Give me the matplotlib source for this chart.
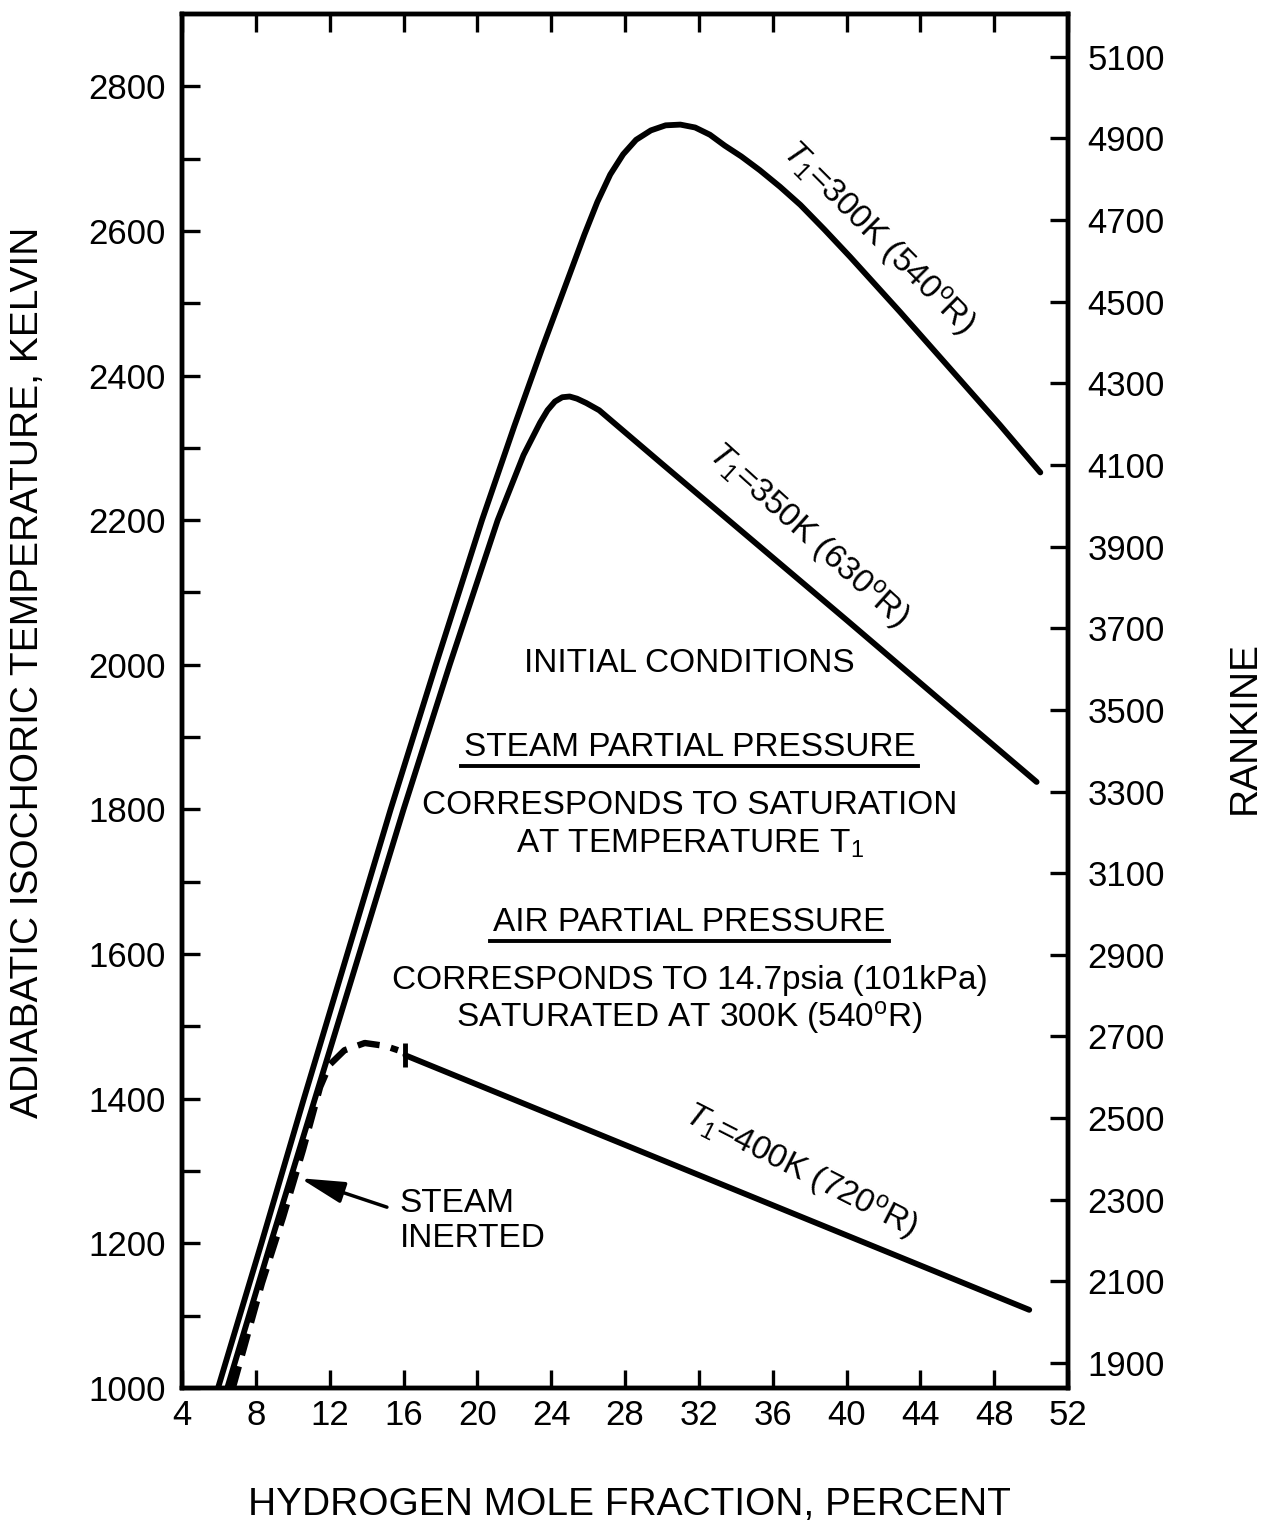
import matplotlib as mpl
mpl.use('Agg')
import matplotlib.pyplot as plt
from matplotlib.lines import Line2D
import numpy as np

# 曲线数据: 氢摩尔分数 (%) 与绝热等容温度 (K)
h2_300 = [5.95, 8.3, 10.6, 12.95, 15.3, 17.75, 20.25, 22.0, 23.5, 25.0, 25.8, 26.5,
          27.2, 27.9, 28.6, 29.4, 30.2, 31.0, 31.8, 32.6, 33.4, 34.3, 35.3, 36.4,
          37.5, 38.8, 40.2, 42.9, 45.6, 48.3, 50.5]
temp_300 = [1000, 1200, 1400, 1600, 1800, 2000, 2200, 2330, 2437, 2540, 2595, 2640,
            2678, 2706, 2726, 2739, 2746, 2747, 2743, 2733, 2718, 2703, 2684, 2661,
            2636, 2602, 2564, 2488, 2410, 2332, 2266]

h2_350 = [6.45, 8.8, 11.2, 13.6, 16.0, 18.5, 21.1, 22.5, 23.4, 23.8, 24.2, 24.6,
          25.0, 25.4, 25.9, 26.6, 30.0, 35.0, 40.0, 45.0, 50.3]
temp_350 = [1000, 1200, 1400, 1600, 1800, 2000, 2200, 2290, 2335, 2352, 2364, 2370,
            2371, 2368, 2362, 2352, 2278, 2170, 2062, 1953, 1838]

# T1=400K: 蒸汽惰化段 (虚线) 和实线段
h2_400_inert = [6.75, 8.33, 9.47, 10.55, 11.48, 12.0, 12.8, 13.9, 15.0, 15.7]
temp_400_inert = [1000, 1145, 1236, 1329, 1416, 1447, 1467, 1477, 1473, 1467]
h2_400 = [16.1, 49.9]
temp_400 = [1460, 1108]

x_ticks = np.arange(4, 53, 4)
kelvin_ticks = np.arange(1000, 2801, 200)
kelvin_minor = np.arange(1100, 2800, 200)
rankine_ticks = np.arange(1900, 5101, 200)

font_name = 'Liberation Sans'
mpl.rcParams['font.family'] = [font_name, 'DejaVu Sans']
mpl.rcParams['mathtext.fontset'] = 'custom'
mpl.rcParams['mathtext.rm'] = font_name
mpl.rcParams['mathtext.it'] = font_name + ':italic'

fig = plt.figure(figsize=(12.66, 15.35), dpi=100)
ax = fig.add_axes([0.1438, 0.0958, 0.6998, 0.8951])

lw = 4.2
line_kw = dict(color='k', lw=lw, solid_capstyle='round', solid_joinstyle='round')
ax.plot(h2_300, temp_300, **line_kw)
ax.plot(h2_350, temp_350, **line_kw)
ax.plot(h2_400_inert, temp_400_inert, color='k', lw=lw + 0.4, ls=(0, (3.5, 1.8)))
ax.plot(h2_400, temp_400, marker='|', markersize=17, markeredgewidth=3.5,
        markevery=[0], **line_kw)

ax.set_xlim(4, 52)
ax.set_ylim(1000, 2900)
ax.set_xticks(x_ticks)
ax.set_yticks(kelvin_ticks)
ax.set_yticks(kelvin_minor, minor=True)
ax.tick_params(which='both', direction='in', length=13, width=2.4, top=True,
               right=False, labelsize=25)
ax.tick_params(axis='y', pad=12)
ax.tick_params(axis='x', pad=8)

ax2 = ax.twinx()
ax2.set_ylim(1839, 5205)
ax2.set_yticks(rankine_ticks)
ax2.tick_params(direction='in', length=13, width=2.4, labelsize=25, pad=14)

for a in (ax, ax2):
    for sp in a.spines.values():
        sp.set_linewidth(3.2)

# 曲线标注
lab_kw = dict(fontsize=24, ha='center', va='center', rotation_mode='anchor')
ax.text(41.7, 2590, r'$T_1$=300K (540$^{\rm o}$R)', rotation=-45, **lab_kw)
ax.text(37.9, 2179, r'$T_1$=350K (630$^{\rm o}$R)', rotation=-42, **lab_kw)
ax.text(37.5, 1301, r'$T_1$=400K (720$^{\rm o}$R)', rotation=-27, **lab_kw)

# 初始条件说明
cx = 31.5
txt_kw = dict(fontsize=24, ha='center', va='center')
ax.text(cx, 2002, 'INITIAL CONDITIONS', **txt_kw)
t_steam = ax.text(cx, 1885, 'STEAM PARTIAL PRESSURE', **txt_kw)
ax.text(cx, 1806, 'CORRESPONDS TO SATURATION', **txt_kw)
ax.text(cx, 1752, r'AT TEMPERATURE T$_1$', **txt_kw)
t_air = ax.text(cx, 1644, 'AIR PARTIAL PRESSURE', **txt_kw)
ax.text(cx, 1564, 'CORRESPONDS TO 14.7psia (101kPa)', **txt_kw)
ax.text(cx, 1512, 'SATURATED AT 300K (540$^{\\rm o}$R)', **txt_kw)

ax.text(15.8, 1231, 'STEAM\nINERTED', fontsize=24, ha='left', va='center', linespacing=1.15)
ax.annotate('', xy=(10.4, 1290), xytext=(15.1, 1250),
            arrowprops=dict(arrowstyle='-|>,head_length=0.9,head_width=0.22',
                            lw=2.5, color='k', mutation_scale=30, shrinkA=0, shrinkB=0))

fig.text(0.022, 0.562, 'ADIABATIC ISOCHORIC TEMPERATURE, KELVIN', rotation=90,
         fontsize=28, ha='center', va='center')
fig.text(0.983, 0.526, 'RANKINE', rotation=90, fontsize=28, ha='center', va='center')
fig.text(0.497, 0.0195, 'HYDROGEN MOLE FRACTION, PERCENT', fontsize=28,
         ha='center', va='center')

# 标题下划线
fig.canvas.draw()
inv = fig.transFigure.inverted()
for t in (t_steam, t_air):
    bb = t.get_window_extent()
    (x0, y0), (x1, _) = inv.transform([(bb.x0 - 3, bb.y0 - 3), (bb.x1 + 3, bb.y0 - 3)])
    fig.add_artist(Line2D([x0, x1], [y0, y0], color='k', lw=2.8))

fig.savefig('out.png', dpi=100)
